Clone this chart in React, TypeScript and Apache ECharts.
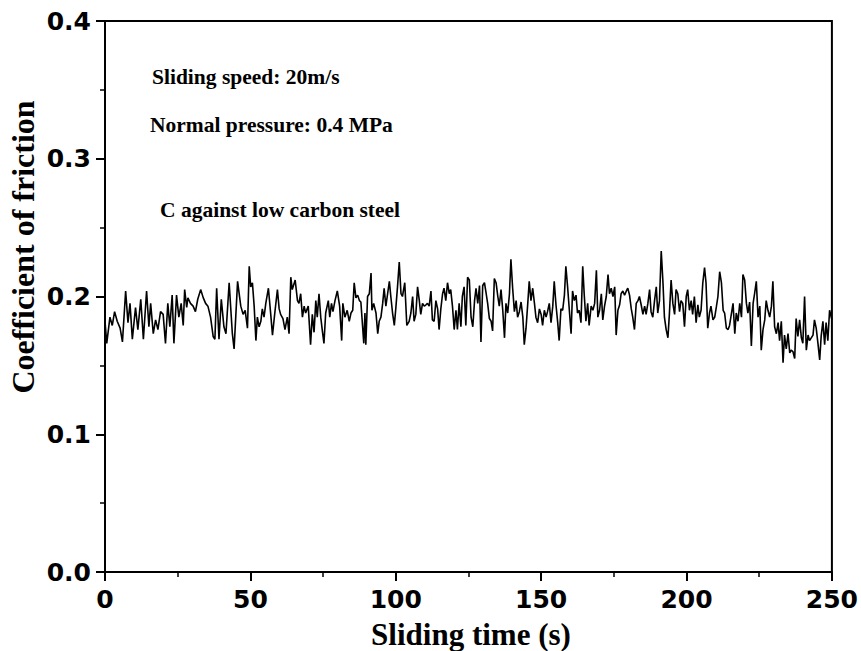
import React, { useEffect, useRef } from "react";
import * as echarts from "echarts";

const times: number[] = [
  0, 0.6, 1.7, 2.5, 3.3, 4.2, 5.2, 6.0, 7.1, 7.9, 8.6, 9.4, 10.5, 11.3, 12.3, 13.2, 14.3, 15.1, 15.7, 16.6, 17.4, 18.2, 19.1, 20.0, 20.8, 21.6, 22.3, 23.1, 23.7, 24.6, 25.4, 26.2, 26.9, 27.4, 28.1, 28.5, 29.4, 30.3, 31.1, 31.9, 32.9, 33.8, 34.6, 35.4, 36.3, 37.2, 37.8, 38.4, 39.2, 40.0, 40.9,
  41.6, 42.7, 43.8, 44.4, 45.6, 46.7, 47.5, 48.2, 49.0, 49.6, 50.1, 50.7, 51.3, 51.9, 52.4, 53.0, 53.6, 54.1, 54.7, 55.3, 56.2, 57.0, 57.6, 58.5, 59.3, 59.9, 60.4, 61.2, 61.9, 62.7, 63.3, 63.9, 64.4, 65.4, 66.2, 66.7, 67.3, 67.9, 68.5, 69.0, 69.9, 70.7, 71.3, 71.9, 72.5, 73.0, 73.6, 74.2, 74.7, 75.3, 75.9, 76.8, 77.3, 77.9, 78.4, 79.1, 79.9, 80.7, 81.4, 81.8, 82.5, 83.3,
  84.0, 84.6, 85.2, 85.7, 86.3, 86.9, 87.5, 88.0, 88.6, 89.0, 89.4, 89.7, 90.3, 90.9, 91.5, 91.8, 92.4, 93.2, 93.8, 94.3, 94.9, 95.5, 96.0, 96.6, 97.2, 97.8, 98.3, 98.9, 99.5, 100.0, 100.6, 101.2, 101.8, 102.3, 103.1, 103.8, 104.6, 105.2, 105.8, 106.3, 106.9, 107.5, 108.1, 108.6, 109.2, 109.8, 110.4, 110.9, 111.5, 112.1, 112.6, 113.2, 113.8, 114.4, 114.9, 115.5, 116.1, 116.6, 117.2, 117.8, 118.4, 118.9, 119.5, 120.1, 120.7, 121.2, 121.8, 122.4, 122.9, 123.5, 124.1, 124.7,
  125.3, 125.9, 126.5, 127.1, 127.6, 128.2, 128.8, 129.3, 129.9, 130.5, 131.1, 131.6, 132.2, 132.8, 133.3, 133.9, 134.5, 135.1, 135.6, 136.2, 136.8, 137.4, 137.9, 138.5, 139.1, 139.6, 140.2, 140.8, 141.4, 141.9, 142.5, 143.1, 143.7, 144.2, 144.8, 145.4, 145.9, 146.5, 147.1, 147.7, 148.2, 148.8, 149.4, 150.0, 150.5, 151.1, 151.7, 152.2, 152.8, 153.4, 154.0, 154.5, 155.1, 155.7, 156.2, 156.8, 157.4, 158.0, 158.5, 159.1, 159.7, 160.3, 160.8, 161.4, 162.0, 162.5, 163.1, 163.7, 164.3, 164.8, 165.4, 166.0, 166.5,
  167.2, 167.8, 168.4, 169.0, 169.5, 170.1, 170.7, 171.2, 171.8, 172.4, 173.0, 173.5, 174.1, 174.7, 175.3, 175.8, 176.4, 177.0, 177.5, 178.1, 178.7, 179.3, 179.8, 180.4, 181.0, 181.5, 182.1, 182.7, 183.3, 183.8, 184.4, 185.0, 185.6, 186.1, 186.7, 187.3, 187.8, 188.4, 189.0, 189.6, 190.1, 190.7, 191.3, 191.9, 192.4, 193.0, 193.6, 194.1, 194.7, 195.3, 195.9, 196.4, 197.0, 197.6, 198.1, 198.7, 199.3, 199.9, 200.4, 201.0, 201.6, 202.1, 202.7, 203.3, 203.9, 204.4, 205.0, 205.6, 206.2, 206.7, 207.3, 207.9, 208.4,
  209.1, 209.7, 210.3, 210.8, 211.4, 212.0, 212.6, 213.1, 213.7, 214.3, 214.8, 215.4, 216.0, 216.6, 217.1, 217.7, 218.3, 218.9, 219.4, 220.0, 220.6, 221.1, 221.7, 222.3, 222.9, 223.4, 224.0, 224.6, 225.2, 225.7, 226.3, 226.9, 227.4, 228.0, 228.6, 229.2, 229.7, 230.3, 230.9, 231.5, 232.0, 232.6, 233.2, 233.7, 234.3, 234.9, 235.5, 236.0, 236.6, 237.2, 237.7, 238.3, 238.9, 239.5, 240.0, 240.6, 241.2, 241.8, 242.3, 242.9, 243.5, 244.0, 244.6, 245.2, 245.8, 246.3, 246.9, 247.5, 248.0, 248.6, 249.2, 250.0,
];

const frictionValues: number[] = [
  0.182, 0.166, 0.185, 0.179, 0.189, 0.182, 0.177, 0.167, 0.204, 0.181, 0.195, 0.169, 0.192, 0.176, 0.198, 0.169, 0.204, 0.178, 0.195, 0.173, 0.183, 0.176, 0.189, 0.187, 0.166, 0.195, 0.178, 0.201, 0.166, 0.201, 0.185, 0.195, 0.179, 0.205, 0.192, 0.199, 0.195, 0.193, 0.189, 0.198, 0.205, 0.199, 0.195, 0.193, 0.185, 0.171, 0.169, 0.206, 0.169, 0.198, 0.178,
  0.173, 0.210, 0.173, 0.162, 0.211, 0.193, 0.187, 0.190, 0.177, 0.222, 0.207, 0.210, 0.193, 0.168, 0.185, 0.178, 0.182, 0.191, 0.185, 0.195, 0.206, 0.187, 0.172, 0.190, 0.205, 0.191, 0.187, 0.184, 0.176, 0.185, 0.173, 0.214, 0.205, 0.212, 0.197, 0.195, 0.202, 0.185, 0.193, 0.188, 0.193, 0.165, 0.187, 0.174, 0.197, 0.185, 0.202, 0.185, 0.176, 0.166, 0.188, 0.197, 0.185, 0.195, 0.189, 0.197, 0.204, 0.193, 0.168, 0.195, 0.185, 0.190,
  0.182, 0.188, 0.190, 0.210, 0.199, 0.201, 0.197, 0.196, 0.178, 0.166, 0.188, 0.165, 0.200, 0.202, 0.217, 0.190, 0.195, 0.188, 0.173, 0.182, 0.185, 0.195, 0.206, 0.193, 0.202, 0.211, 0.200, 0.188, 0.179, 0.191, 0.207, 0.225, 0.202, 0.200, 0.210, 0.179, 0.182, 0.188, 0.200, 0.182, 0.187, 0.207, 0.197, 0.187, 0.195, 0.193, 0.194, 0.195, 0.193, 0.204, 0.183, 0.182, 0.197, 0.191, 0.176, 0.191, 0.202, 0.206, 0.197, 0.210, 0.202, 0.205, 0.193, 0.176, 0.190, 0.176, 0.195, 0.178, 0.200, 0.207, 0.179, 0.214,
  0.212, 0.185, 0.178, 0.197, 0.206, 0.195, 0.208, 0.167, 0.208, 0.210, 0.202, 0.195, 0.184, 0.182, 0.175, 0.213, 0.210, 0.200, 0.193, 0.205, 0.190, 0.170, 0.195, 0.188, 0.202, 0.227, 0.206, 0.189, 0.197, 0.185, 0.189, 0.196, 0.185, 0.165, 0.177, 0.195, 0.211, 0.197, 0.206, 0.195, 0.185, 0.181, 0.191, 0.187, 0.179, 0.190, 0.185, 0.189, 0.195, 0.181, 0.193, 0.211, 0.194, 0.181, 0.168, 0.191, 0.190, 0.201, 0.222, 0.207, 0.190, 0.173, 0.204, 0.197, 0.201, 0.188, 0.190, 0.181, 0.222, 0.202, 0.182, 0.195, 0.179,
  0.193, 0.190, 0.195, 0.219, 0.185, 0.190, 0.202, 0.183, 0.193, 0.200, 0.216, 0.202, 0.206, 0.200, 0.207, 0.172, 0.190, 0.194, 0.202, 0.204, 0.201, 0.204, 0.206, 0.201, 0.191, 0.185, 0.176, 0.195, 0.197, 0.200, 0.194, 0.187, 0.193, 0.187, 0.195, 0.205, 0.189, 0.185, 0.197, 0.207, 0.188, 0.197, 0.233, 0.210, 0.185, 0.176, 0.170, 0.187, 0.212, 0.195, 0.187, 0.205, 0.202, 0.189, 0.197, 0.195, 0.178, 0.200, 0.205, 0.190, 0.197, 0.187, 0.200, 0.181, 0.194, 0.185, 0.190, 0.210, 0.221, 0.210, 0.177, 0.188, 0.193,
  0.183, 0.185, 0.193, 0.200, 0.218, 0.210, 0.190, 0.188, 0.177, 0.176, 0.179, 0.187, 0.195, 0.173, 0.188, 0.182, 0.195, 0.185, 0.216, 0.212, 0.195, 0.188, 0.196, 0.164, 0.195, 0.202, 0.211, 0.185, 0.193, 0.161, 0.176, 0.183, 0.197, 0.190, 0.185, 0.193, 0.211, 0.178, 0.173, 0.181, 0.168, 0.182, 0.152, 0.172, 0.162, 0.173, 0.159, 0.161, 0.160, 0.155, 0.184, 0.171, 0.183, 0.170, 0.166, 0.200, 0.161, 0.172, 0.168, 0.170, 0.172, 0.183, 0.177, 0.166, 0.154, 0.171, 0.182, 0.165, 0.181, 0.168, 0.190, 0.183,
];

const xTicks: number[] = [0, 50, 100, 150, 200, 250];
const yTicks: number[] = [0.0, 0.1, 0.2, 0.3, 0.4];
const xTitle = "Sliding time (s)";
const yTitle = "Coefficient of friction";
const annotations: string[] = [
  "Sliding speed: 20m/s",
  "Normal pressure: 0.4 MPa",
  "C against low carbon steel",
];

export default function App() {
  const ref = useRef<HTMLDivElement>(null);
  useEffect(() => {
    if (!ref.current) return;
    const chart = echarts.init(ref.current, undefined, { renderer: "svg" });
    const data = times.map((t, i) => [t, frictionValues[i]]);
    const serif = "'Liberation Serif', 'Times New Roman', serif";
    const sans = "'DejaVu Sans', sans-serif";
    const annY = [77, 125, 210];
    const annX = [152, 150, 160];
    chart.setOption({
      animation: false,
      backgroundColor: "#ffffff",
      grid: {
        left: 105,
        right: 29,
        top: 21,
        bottom: 79,
        show: true,
        borderColor: "#000",
        borderWidth: 2,
        backgroundColor: "transparent",
      },
      xAxis: {
        type: "value",
        min: xTicks[0],
        max: xTicks[xTicks.length - 1],
        interval: xTicks[1] - xTicks[0],
        axisLine: { show: true, onZero: false, lineStyle: { color: "#000", width: 2 } },
        axisTick: { show: true, inside: false, length: 9, lineStyle: { color: "#000", width: 2 } },
        minorTick: { show: true, splitNumber: 2, length: 5, lineStyle: { color: "#000", width: 1.5 } },
        splitLine: { show: false },
        axisLabel: {
          color: "#000",
          fontFamily: sans,
          fontWeight: "bold",
          fontSize: 25,
          margin: 15,
        },
      },
      yAxis: {
        type: "value",
        min: yTicks[0],
        max: yTicks[yTicks.length - 1],
        interval: 0.1,
        axisLine: { show: true, onZero: false, lineStyle: { color: "#000", width: 2 } },
        axisTick: { show: true, inside: false, length: 9, lineStyle: { color: "#000", width: 2 } },
        minorTick: { show: true, splitNumber: 2, length: 5, lineStyle: { color: "#000", width: 1.5 } },
        splitLine: { show: false },
        axisLabel: {
          color: "#000",
          fontFamily: sans,
          fontWeight: "bold",
          fontSize: 25,
          margin: 14,
          formatter: (v: number) => v.toFixed(1),
        },
      },
      graphic: [
        {
          type: "text",
          x: 471,
          y: 634,
          style: {
            text: xTitle,
            fill: "#000",
            font: `bold 31px ${serif}`,
            textAlign: "center",
            textVerticalAlign: "middle",
          },
        },
        {
          type: "text",
          x: 23,
          y: 247,
          rotation: Math.PI / 2,
          style: {
            text: yTitle,
            fill: "#000",
            font: `bold 32px ${serif}`,
            textAlign: "center",
            textVerticalAlign: "middle",
          },
        },
        ...annotations.map((a, i) => ({
          type: "text",
          x: annX[i],
          y: annY[i],
          style: {
            text: a,
            fill: "#000",
            font: `bold 21.5px ${serif}`,
            textAlign: "left",
            textVerticalAlign: "middle",
          },
        })),
      ],
      series: [
        {
          type: "line",
          data,
          showSymbol: false,
          symbol: "none",
          lineStyle: { color: "#000", width: 1.6 },
        },
      ],
    });
    return () => chart.dispose();
  }, []);
  return (
    <div
      ref={ref}
      style={{ position: "fixed", left: 0, top: 0, width: 861, height: 651, background: "#fff" }}
    />
  );
}
